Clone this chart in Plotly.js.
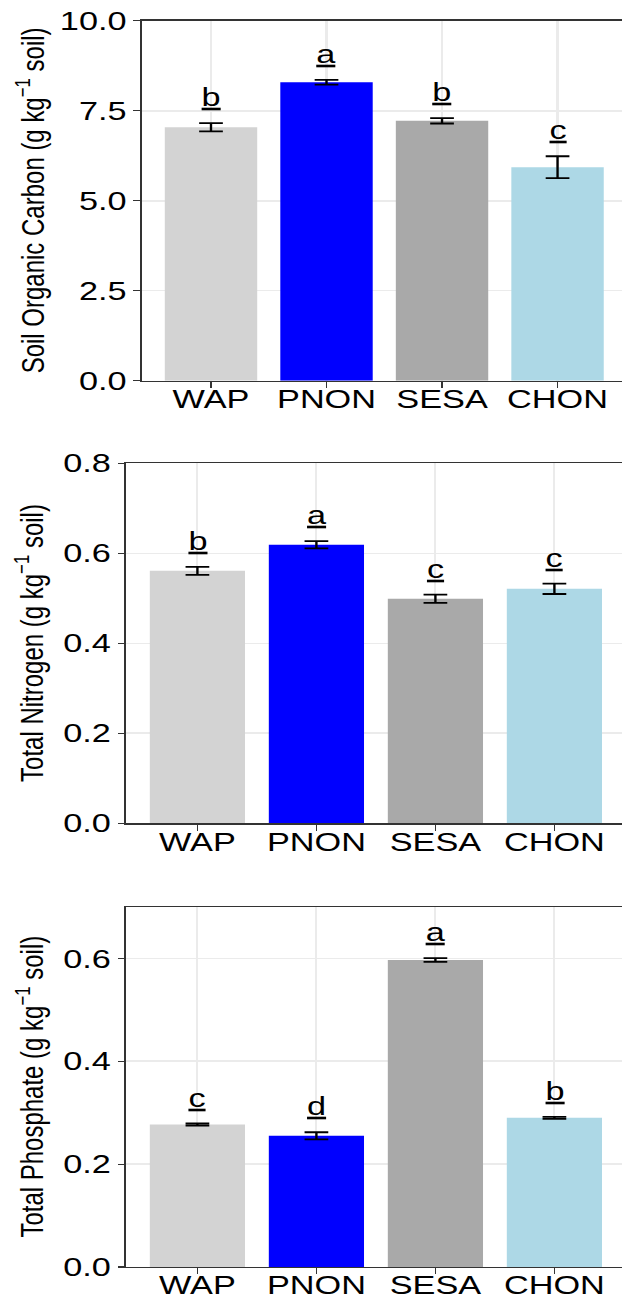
<!DOCTYPE html>
<html><head><meta charset="utf-8">
<script src="https://cdn.plot.ly/plotly-3.0.1.min.js"></script>
<style>
html,body{margin:0;padding:0;background:#fff;overflow:hidden}
#wrap{width:622px;height:1299px;overflow:hidden;position:relative}
#plot{width:472px;height:1299px;transform:scaleX(1.3178);transform-origin:0 0}
</style>
</head><body><div id="wrap"><div id="plot"></div></div>
<script>
const categories = ['WAP', 'PNON', 'SESA', 'CHON'];
const barColors = ['#d3d3d3', '#0000ff', '#a9a9a9', '#add8e6'];

const socMean = [7.04, 8.29, 7.22, 5.93];
const socSE = [0.115, 0.065, 0.075, 0.305];
const socLetters = ['b', 'a', 'b', 'c'];
const socTicks = [0, 2.5, 5, 7.5, 10];

const tnMean = [0.561, 0.619, 0.499, 0.521];
const tnSE = [0.009, 0.008, 0.009, 0.0115];
const tnLetters = ['b', 'a', 'c', 'c'];
const tnTicks = [0, 0.2, 0.4, 0.6, 0.8];

const tpMean = [0.277, 0.255, 0.597, 0.290];
const tpSE = [0.002, 0.007, 0.0036, 0.002];
const tpLetters = ['c', 'd', 'a', 'b'];
const tpTicks = [0, 0.2, 0.4, 0.6];

const titles = [
  'Soil Organic Carbon (g kg<sup>\u22121</sup> soil)',
  'Total Nitrogen (g kg<sup>\u22121</sup> soil)',
  'Total Phosphate (g kg<sup>\u22121</sup> soil)'
];

const panels = [
  {mean: socMean, se: socSE, letters: socLetters, ticks: socTicks, yr: [0, 10], ydom: [0.70693, 0.98406], xdom: [0.2278, 1], xr: [-0.6, 3.558]},
  {mean: tnMean, se: tnSE, letters: tnLetters, ticks: tnTicks, yr: [0, 0.8], ydom: [0.36621, 0.64334], xdom: [0.2026, 1], xr: [-0.6, 3.568]},
  {mean: tpMean, se: tpSE, letters: tpLetters, ticks: tpTicks, yr: [0, 0.7], ydom: [0.02463, 0.30177], xdom: [0.2026, 1], xr: [-0.6, 3.568]}
];

const FONT = 'Liberation Sans, Arial, Helvetica, sans-serif';
const TICK = 26;
const traces = [];
const annotations = [];
const layout = {
  width: 472, height: 1299,
  margin: {l: 0, r: 0, t: 0, b: 0},
  paper_bgcolor: 'white', plot_bgcolor: 'white',
  showlegend: false,
  font: {family: FONT, size: TICK, color: 'black'},
  annotations: annotations
};

panels.forEach((p, i) => {
  const sfx = i === 0 ? '' : String(i + 1);
  traces.push({
    type: 'bar', x: categories, y: p.mean,
    xaxis: 'x' + sfx, yaxis: 'y' + sfx,
    width: 0.8,
    marker: {color: barColors, line: {width: 0}},
    error_y: {type: 'data', array: p.se, visible: true, color: 'black', thickness: 1.8, width: 9},
    hoverinfo: 'none'
  });
  layout['xaxis' + sfx] = {
    domain: p.xdom, anchor: 'y' + sfx, type: 'category', range: p.xr,
    showline: true, mirror: true, linecolor: '#333', linewidth: 1.3,
    ticks: 'outside', ticklen: 6, tickwidth: 1.3, tickcolor: '#333',
    ticklabelstandoff: -11,
    showgrid: true, gridcolor: '#ebebeb', gridwidth: 1.6,
    tickfont: {size: TICK, color: 'black'}, fixedrange: true
  };
  layout['yaxis' + sfx] = {
    domain: p.ydom, anchor: 'x' + sfx, range: p.yr,
    tickvals: p.ticks, tickformat: '.1f',
    showline: true, linecolor: '#333', linewidth: 1.3,
    ticks: 'outside', ticklen: 5, tickwidth: 1.3, tickcolor: '#333',
    showgrid: true, gridcolor: '#ebebeb', gridwidth: 1.6, zeroline: false,
    tickfont: {size: TICK, color: 'black'}, fixedrange: true
  };
  categories.forEach((c, j) => {
    annotations.push({
      xref: 'x' + sfx, yref: 'y' + sfx, x: c, y: p.mean[j] + p.se[j],
      text: '<u>' + p.letters[j] + '</u>', showarrow: false,
      yanchor: 'bottom', yshift: 9, font: {size: TICK, color: 'black'}
    });
  });
  annotations.push({
    xref: 'paper', yref: 'paper', x: 0.048, y: (p.ydom[0] + p.ydom[1]) / 2,
    xanchor: 'center', yanchor: 'middle', textangle: -90, showarrow: false,
    text: titles[i], font: {size: 24, color: 'black'}
  });
});

Plotly.newPlot('plot', traces, layout, {staticPlot: true, displayModeBar: false});
</script>
</body></html>
